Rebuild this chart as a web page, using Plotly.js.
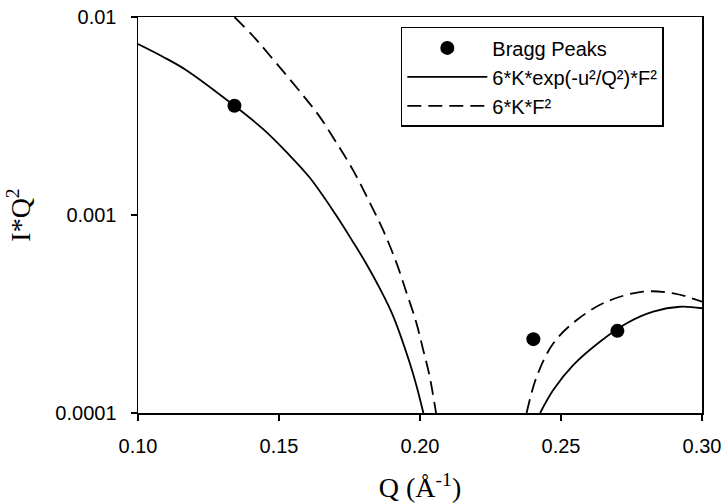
<!DOCTYPE html>
<html>
<head>
<meta charset="utf-8">
<script src="https://cdn.plot.ly/plotly-3.0.1.min.js"></script>
<style>html,body{margin:0;padding:0;background:#fff;}#chart{width:724px;height:504px;}</style>
</head>
<body>
<div id="chart"></div>
<script>
// Bragg peak measurements
const braggQ = [0.1342, 0.2402, 0.2700];
const braggI = [0.00356, 0.000236, 0.000260];

// Model with Debye-Waller factor: 6*K*exp(-u²/Q²)*F²
const modelDWQ = [0.1000, 0.1088, 0.1170, 0.1342, 0.1442, 0.1525, 0.1608, 0.1702, 0.1762, 0.1809, 0.1857, 0.1903, 0.1962, 0.1987, 0.2012, null,
                  0.2426, 0.2473, 0.2544, 0.2638, 0.2733, 0.2827, 0.2922, 0.3000];
const modelDWI = [0.00730, 0.00630, 0.00540, 0.00356, 0.00273, 0.00209, 0.00155, 0.00100, 0.000733, 0.000569, 0.000427, 0.000313, 0.000182, 0.000138, 0.000100, null,
                  0.000100, 0.000131, 0.000175, 0.000229, 0.000284, 0.000325, 0.000344, 0.000338];

// Model without Debye-Waller factor: 6*K*F²
const modelQ = [0.1342, 0.1407, 0.1466, 0.1584, 0.1644, 0.1702, 0.1762, 0.1820, 0.1869, 0.1915, 0.1951, 0.1986, 0.2010, 0.2033, 0.2057, null,
                0.2378, 0.2414, 0.2473, 0.2556, 0.2662, 0.2792, 0.2899, 0.3000];
const modelI = [0.0100, 0.00804, 0.00643, 0.00404, 0.00314, 0.00234, 0.00169, 0.00117, 0.00084, 0.000581, 0.000410, 0.000289, 0.000212, 0.000156, 0.000100, null,
                0.000100, 0.000153, 0.000225, 0.000295, 0.000365, 0.000410, 0.000402, 0.000365];

const seriesNames = ['Bragg Peaks', '6*K*exp(-u²/Q²)*F²', '6*K*F²'];
const xTickVals = [0.10, 0.15, 0.20, 0.25, 0.30];
const xTickText = ['0.10', '0.15', '0.20', '0.25', '0.30'];
const yTickVals = [0.0001, 0.001, 0.01];
const yTickText = ['0.0001', '0.001', '0.01'];

const traces = [
  {x: braggQ, y: braggI, name: seriesNames[0], type: 'scatter', mode: 'markers',
   marker: {symbol: 'circle', size: 14, color: '#000'}},
  {x: modelDWQ, y: modelDWI, name: seriesNames[1], type: 'scatter', mode: 'lines',
   connectgaps: false, line: {color: '#000', width: 1.8, shape: 'spline', smoothing: 1}},
  {x: modelQ, y: modelI, name: seriesNames[2], type: 'scatter', mode: 'lines',
   connectgaps: false, line: {color: '#000', width: 1.8, dash: '14px,7px', shape: 'spline', smoothing: 1}}
];

const tickFont = {family: 'Liberation Sans, Arial, sans-serif', size: 20, color: '#000'};
const titleFont = {family: 'Liberation Serif, Times New Roman, serif', size: 28, color: '#000'};

const layout = {
  width: 724, height: 504,
  margin: {l: 138, r: 22, t: 17, b: 91, pad: 0},
  paper_bgcolor: '#fff', plot_bgcolor: '#fff',
  showlegend: true,
  legend: {x: 0.466, y: 0.975, xanchor: 'left', yanchor: 'top',
           bordercolor: '#000', borderwidth: 1.5, bgcolor: '#fff',
           font: {family: 'Liberation Sans, Arial, sans-serif', size: 20, color: '#000'},
           itemwidth: 80},
  xaxis: {
    type: 'linear', range: [0.1, 0.3],
    tickmode: 'array', tickvals: xTickVals, ticktext: xTickText,
    ticks: 'outside', ticklen: 6, tickwidth: 1.5, tickcolor: '#000',
    showline: true, linewidth: 1.5, linecolor: '#000', mirror: true,
    showgrid: false, zeroline: false, tickfont: tickFont, ticklabelstandoff: 8,
    title: {text: 'Q (Å<sup>-1</sup>)', font: titleFont, standoff: 22}
  },
  yaxis: {
    type: 'log', range: [-4, -2],
    tickmode: 'array', tickvals: yTickVals, ticktext: yTickText,
    ticks: 'outside', ticklen: 6, tickwidth: 1.5, tickcolor: '#000',
    showline: true, linewidth: 1.5, linecolor: '#000', mirror: true,
    showgrid: false, zeroline: false, tickfont: tickFont, ticklabelstandoff: 10,
    title: {text: 'I*Q<sup>2</sup>', font: titleFont, standoff: 16}
  }
};

Plotly.newPlot('chart', traces, layout, {displayModeBar: false, staticPlot: true});
</script>
</body>
</html>
